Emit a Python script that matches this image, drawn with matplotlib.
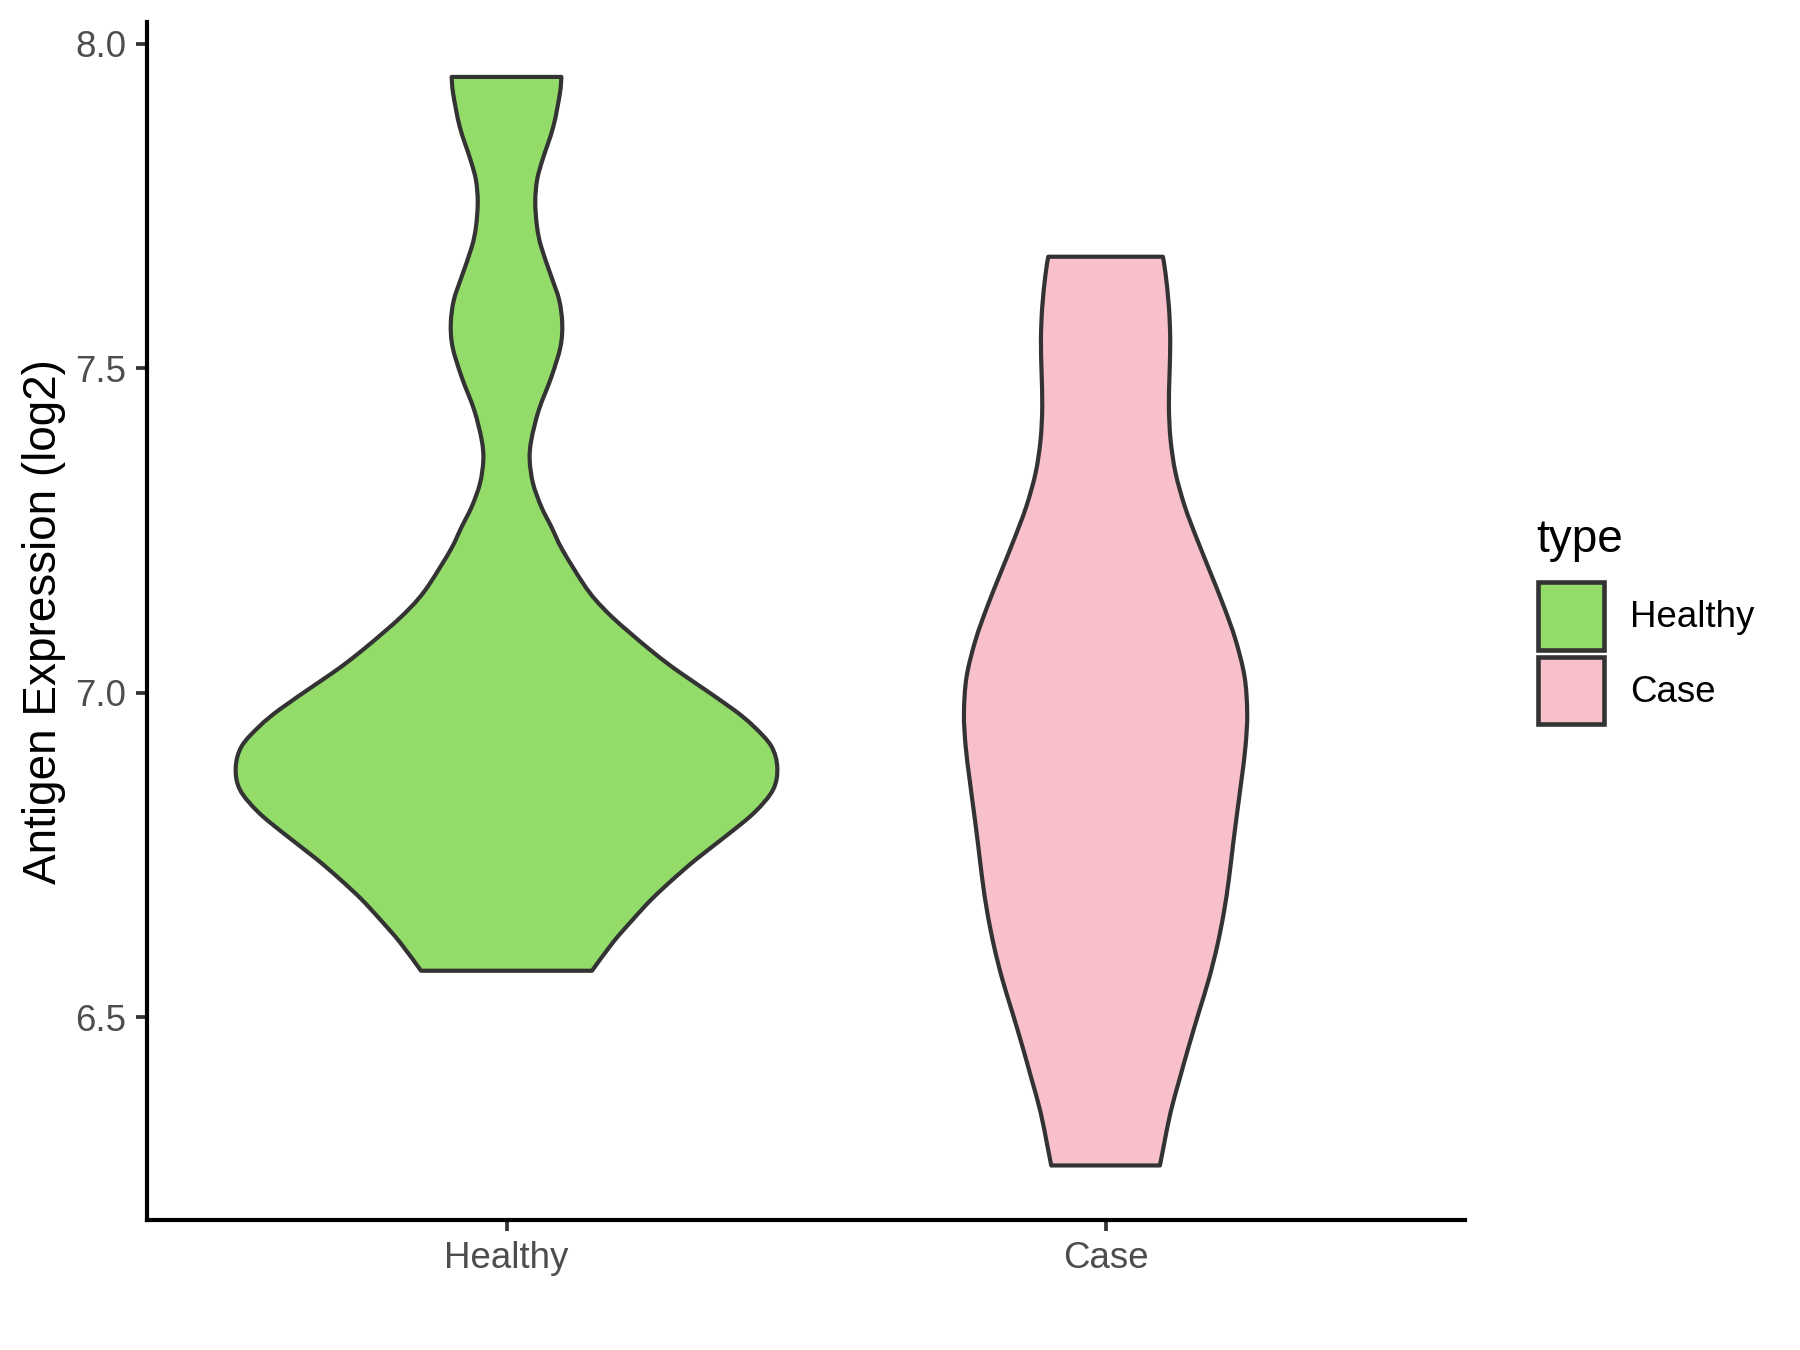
import numpy as np
import matplotlib.pyplot as plt
from matplotlib.patches import Patch, PathPatch
from matplotlib.path import Path

plt.rcParams['font.family'] = ['Liberation Sans', 'DejaVu Sans']

categories = ['Healthy', 'Case']
colors = ['#93DC6A', '#F7C0CB']
edge = '#333333'

# violin outlines: expression value -> half width (x units)
healthy_y = [6.572, 6.616, 6.651, 6.682, 6.713, 6.744, 6.780, 6.816, 6.851, 6.885,
             6.918, 6.949, 6.975, 7.016, 7.041, 7.067, 7.093, 7.118, 7.144,
             7.170, 7.221, 7.256, 7.287, 7.323, 7.359, 7.390, 7.436, 7.487, 7.533,
             7.569, 7.605, 7.641, 7.687, 7.718, 7.756, 7.790, 7.821, 7.872, 7.923,
             7.949]
healthy_hw = [0.1427, 0.178, 0.211, 0.242, 0.278, 0.317, 0.367, 0.414, 0.445, 0.452,
              0.442, 0.412, 0.378, 0.314, 0.275, 0.239, 0.2055, 0.175, 0.148,
              0.127, 0.093, 0.0748, 0.058, 0.0442, 0.0387, 0.0415, 0.054, 0.075, 0.090,
              0.093, 0.088, 0.075, 0.058, 0.051, 0.048, 0.051, 0.060, 0.078, 0.089,
              0.0916]

case_y = [6.272, 6.303, 6.354, 6.405, 6.456, 6.508, 6.559, 6.610, 6.662, 6.713,
          6.764, 6.816, 6.867, 6.918, 6.969, 7.025, 7.082, 7.133, 7.185, 7.236,
          7.287, 7.339, 7.390, 7.441, 7.492, 7.544, 7.595, 7.646, 7.672]
case_hw = [0.0907, 0.0973, 0.1085, 0.1235, 0.139, 0.1557, 0.1724, 0.1863, 0.1975, 0.2058,
           0.2125, 0.2197, 0.227, 0.2336, 0.2364, 0.232, 0.2169, 0.1975, 0.1752, 0.153,
           0.1324, 0.1168, 0.1085, 0.1057, 0.1068, 0.1079, 0.1057, 0.1001, 0.0957]

profiles = [(healthy_y, healthy_hw), (case_y, case_hw)]


def smooth_side(pts):
    # bezier segments passing through the read points (catmull-rom handles)
    verts, codes = [], []
    n = len(pts)
    for k in range(n - 1):
        p0 = pts[max(k - 1, 0)]
        p1 = pts[k]
        p2 = pts[k + 1]
        p3 = pts[min(k + 2, n - 1)]
        c1 = p1 + (p2 - p0) / 6
        c2 = p2 - (p3 - p1) / 6
        verts += [c1, c2, p2]
        codes += [Path.CURVE4] * 3
    return verts, codes


fig = plt.figure(figsize=(6, 4.5), dpi=300)
ax = fig.add_axes([0.0817, 0.0963, 0.7322, 0.8871])

for i, (yy, hw) in enumerate(profiles):
    pos = i + 1
    yy = np.array(yy)
    hw = np.array(hw)
    left = np.column_stack([pos - hw, yy])
    right = np.column_stack([pos + hw, yy])[::-1]
    verts = [left[0]]
    codes = [Path.MOVETO]
    v, c = smooth_side(left)
    verts += v
    codes += c
    verts.append(right[0])
    codes.append(Path.LINETO)
    v, c = smooth_side(right)
    verts += v
    codes += c
    verts.append(left[0])
    codes.append(Path.CLOSEPOLY)
    ax.add_patch(PathPatch(Path(verts, codes), facecolor=colors[i], edgecolor=edge,
                           linewidth=1.0, joinstyle='round', zorder=2))

ax.set_xlim(0.4, 2.6)
ax.set_ylim(6.188, 8.033)
ax.set_xticks([1, 2])
ax.set_xticklabels(categories)
ax.set_yticks([6.5, 7.0, 7.5, 8.0])
ax.set_yticklabels(['6.5', '7.0', '7.5', '8.0'])

for s in ['top', 'right']:
    ax.spines[s].set_visible(False)
for s in ['left', 'bottom']:
    ax.spines[s].set_linewidth(1.0)
    ax.spines[s].set_color('black')
ax.tick_params(length=2.75, width=0.9, color=edge, labelsize=8.8,
               labelcolor='#4D4D4D', pad=2.2)

ax.set_ylabel('Antigen Expression (log2)', fontsize=11, color='black')
ax.yaxis.set_label_coords(-0.0614, 0.5)

# legend: title placed separately so the gap above the keys matches
fig.text(0.8533, 0.6003, 'type', fontsize=11, ha='left', va='center')
handles = [Patch(facecolor=c, edgecolor=edge, linewidth=1.1, label=l)
           for c, l in zip(colors, categories)]
leg = fig.legend(handles=handles, loc='center left',
                 bbox_to_anchor=(0.8546, 0.5161), frameon=False, fontsize=8.8,
                 borderpad=0, handlelength=1.8, handleheight=2.47,
                 handletextpad=0.7, labelspacing=0.18, borderaxespad=0)

fig.savefig('out.png', dpi=300)
